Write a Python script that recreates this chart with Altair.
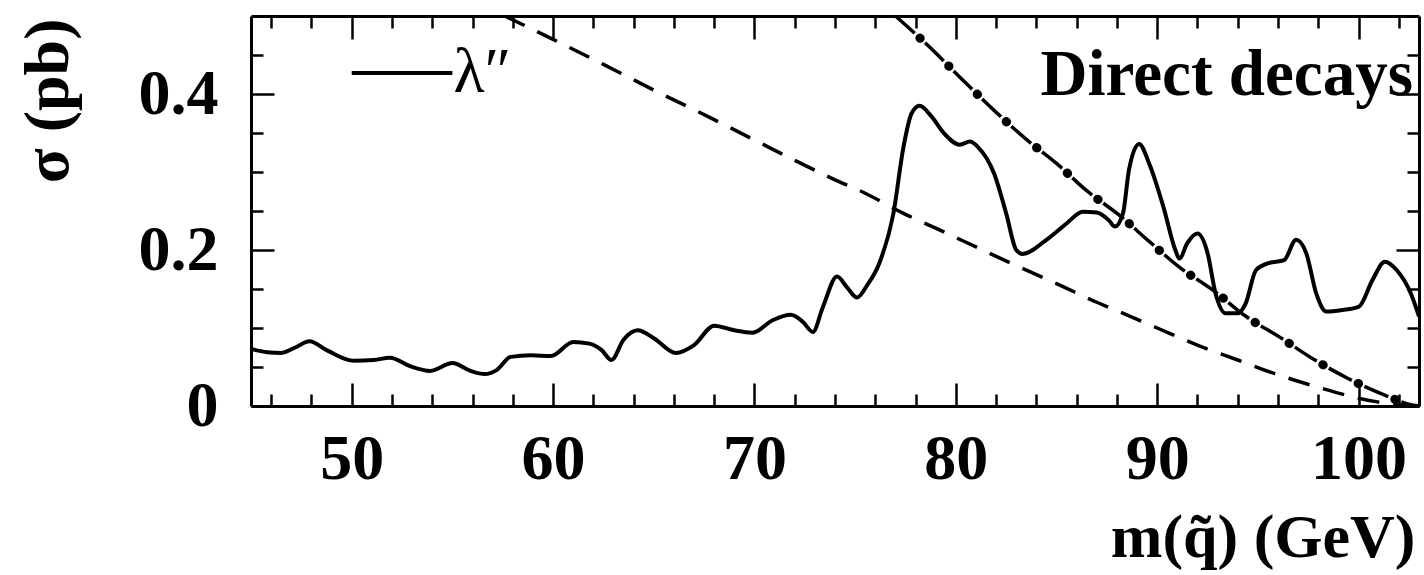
import altair as alt
import pandas as pd

# ---------------- data ----------------
solid_x = [45.0, 45.8, 46.5, 47.2, 47.9, 48.8, 50.1, 51.1, 51.9, 52.9, 53.9, 55.0, 55.9,
           56.6, 57.2, 57.9, 58.9, 59.9, 61.0, 61.8, 62.4, 62.9, 63.5, 64.2, 65.0, 66.1,
           67.0, 68.0, 69.0, 69.9, 70.9, 71.8, 72.4, 72.9, 73.4, 74.1, 74.6, 75.1, 75.6,
           76.2, 76.9, 77.4, 77.8, 78.2, 78.8, 79.4, 80.2, 80.7, 81.1, 81.9, 82.5, 83.0,
           83.3, 84.5, 85.5, 86.3, 87.0, 87.6, 87.9, 88.3, 88.6, 89.1, 89.6, 90.3, 90.9,
           91.1, 91.5, 92.0, 92.5, 92.9, 93.4, 94.0, 94.4, 94.9, 95.5, 96.3, 96.9, 97.4,
           97.9, 98.4, 99.2, 100.0, 100.7, 101.3, 101.9, 102.6, 103.0]
solid_y = [0.073, 0.069, 0.068, 0.075, 0.083, 0.071, 0.058, 0.059, 0.062, 0.051, 0.045, 0.055, 0.045,
           0.041, 0.046, 0.063, 0.065, 0.064, 0.082, 0.080, 0.072, 0.059, 0.085, 0.097, 0.087, 0.068,
           0.078, 0.103, 0.097, 0.094, 0.110, 0.117, 0.108, 0.095, 0.127, 0.166, 0.152, 0.139, 0.155,
           0.183, 0.247, 0.332, 0.375, 0.385, 0.371, 0.350, 0.335, 0.339, 0.332, 0.298, 0.247, 0.200,
           0.195, 0.213, 0.234, 0.249, 0.248, 0.238, 0.230, 0.247, 0.303, 0.336, 0.311, 0.256, 0.200,
           0.189, 0.209, 0.221, 0.196, 0.144, 0.119, 0.119, 0.132, 0.174, 0.183, 0.187, 0.213, 0.196,
           0.144, 0.121, 0.123, 0.127, 0.162, 0.185, 0.174, 0.144, 0.115]

dashed_x = [57.6, 60.0, 62.5, 65.0, 67.7, 70.0, 72.0, 74.0, 75.4, 77.4, 79.0, 81.0, 83.0,
            85.0, 87.0, 88.1, 90.0, 92.0, 94.0, 96.0, 98.0, 100.0, 101.0, 102.0, 102.5]
dashed_y = [0.500, 0.470, 0.438, 0.405, 0.371, 0.341, 0.315, 0.290, 0.274, 0.247, 0.228, 0.204, 0.180,
            0.157, 0.133, 0.121, 0.100, 0.078, 0.059, 0.040, 0.024, 0.010, 0.005, 0.001, 0.000]

dashdot_x = [77.0, 78.5, 80.5, 81.9, 83.4, 85.0, 86.5, 88.1, 89.6, 91.1, 92.8, 94.4, 96.1,
             97.7, 99.5, 101.3, 102.7, 103.0]
dashdot_y = [0.500, 0.465, 0.414, 0.379, 0.344, 0.311, 0.276, 0.245, 0.211, 0.178, 0.148, 0.115, 0.088,
             0.061, 0.035, 0.014, 0.001, 0.000]

x_major = [50, 60, 70, 80, 90, 100]
x_minor = [46, 48, 52, 54, 56, 58, 62, 64, 66, 68, 72, 74, 76, 78, 82, 84, 86, 88, 92, 94, 96, 98, 102]
y_major = [0, 0.2, 0.4]
y_minor = [0.05, 0.1, 0.15, 0.25, 0.3, 0.35, 0.45]

x_title = "m(q\u0303) (GeV)"
y_title = "\u03c3 (pb)"
legend_label = "\u03bb\u2033"
annotation = "Direct decays"

# ---------------- layout / style ----------------
W, H = 1168, 390
FONT = "Liberation Serif"
xscale = alt.Scale(domain=[45, 103], nice=False, zero=False)
yscale = alt.Scale(domain=[0, 0.5], nice=False, zero=False)

solid_df = pd.DataFrame({"x": solid_x, "y": solid_y})
dashed_df = pd.DataFrame({"x": dashed_x, "y": dashed_y})
dashdot_df = pd.DataFrame({"x": dashdot_x, "y": dashdot_y})


def tick_axis(orient, values, size, offset, domain=False):
    return alt.Axis(orient=orient, values=values, tickSize=size, offset=offset,
                    labels=False, domain=domain, domainColor="black", domainWidth=3,
                    grid=False, title=None, tickColor="black", tickWidth=2.5)


x_label_axis = alt.Axis(orient="bottom", values=x_major, ticks=False, tickSize=0,
                        domain=True, domainColor="black", domainWidth=3,
                        grid=False, labelPadding=21, labelFlush=False,
                        labelFont=FONT, labelFontWeight="bold", labelFontSize=64,
                        labelColor="black", title=x_title, titleFont=FONT,
                        titleFontWeight="bold", titleFontSize=62, titleColor="black",
                        titleX=W - 4, titleY=150, titleAlign="right", titleBaseline="alphabetic",
                        titleAngle=0)
y_label_axis = alt.Axis(orient="left", values=y_major, ticks=False, tickSize=0,
                        domain=True, domainColor="black", domainWidth=3,
                        grid=False, labelPadding=33, labelFlush=False, format="~g",
                        labelFont=FONT, labelFontWeight="bold", labelFontSize=64,
                        labelColor="black", title=y_title, titleFont=FONT,
                        titleFontWeight="bold", titleFontSize=64, titleColor="black",
                        titleX=-184, titleY=2, titleAlign="right", titleBaseline="alphabetic",
                        titleAngle=270)

solid = alt.Chart(solid_df).mark_line(
    color="black", strokeWidth=4, interpolate="monotone", clip=True
).encode(
    x=alt.X("x:Q", scale=xscale, axis=x_label_axis),
    y=alt.Y("y:Q", scale=yscale, axis=y_label_axis),
)

dashed = alt.Chart(dashed_df).mark_line(
    color="black", strokeWidth=3.5, strokeDash=[22, 14], interpolate="monotone", clip=True
).encode(
    x=alt.X("x:Q", scale=xscale, axis=tick_axis("top", x_major, 23, -H)),
    y=alt.Y("y:Q", scale=yscale, axis=tick_axis("right", y_major, 23, -W)),
)

dashdot = alt.Chart(dashdot_df).mark_line(
    color="black", strokeWidth=3.5, strokeDash=[26, 14], interpolate="monotone", clip=True
).encode(
    x=alt.X("x:Q", scale=xscale, axis=tick_axis("top", x_minor, 12, -H)),
    y=alt.Y("y:Q", scale=yscale, axis=tick_axis("right", y_minor, 12, -W)),
)

dots = alt.Chart(dashdot_df).mark_line(
    color="black", strokeWidth=9, strokeDash=[0.5, 39.5], strokeDashOffset=7,
    strokeCap="round", interpolate="monotone", clip=True
).encode(
    x=alt.X("x:Q", scale=xscale, axis=tick_axis("bottom", x_major, 23, -H, domain=True)),
    y=alt.Y("y:Q", scale=yscale, axis=tick_axis("left", y_major, 23, -W, domain=True)),
)

legend_line = alt.Chart(pd.DataFrame({"x": [50.0, 55.0], "y": [0.427, 0.427]})).mark_line(
    color="black", strokeWidth=4
).encode(
    x=alt.X("x:Q", scale=xscale, axis=tick_axis("bottom", x_minor, 12, -H)),
    y=alt.Y("y:Q", scale=yscale, axis=tick_axis("left", y_minor, 12, -W)),
)

legend_text = alt.Chart(pd.DataFrame({"x": [55.05], "y": [0.402], "t": [legend_label]})).mark_text(
    align="left", baseline="alphabetic", font=FONT, fontSize=64, color="black"
).encode(
    x=alt.X("x:Q", scale=xscale, axis=None),
    y=alt.Y("y:Q", scale=yscale, axis=None),
    text="t:N",
)

annot = alt.Chart(pd.DataFrame({"x": [102.7], "y": [0.399], "t": [annotation]})).mark_text(
    align="right", baseline="alphabetic", font=FONT, fontWeight="bold", fontSize=65, color="black"
).encode(
    x=alt.X("x:Q", scale=xscale, axis=None),
    y=alt.Y("y:Q", scale=yscale, axis=None),
    text="t:N",
)

chart = alt.layer(solid, dashed, dashdot, dots, legend_line, legend_text, annot).properties(
    width=W, height=H,
    padding={"left": 251, "top": 16, "right": 5, "bottom": 169},
    autosize=alt.AutoSizeParams(type="none"),
).resolve_axis(
    x="independent", y="independent"
).configure_view(
    strokeWidth=0
).configure(background="white")

chart.save("out.html", embed_options={"renderer": "svg", "actions": False})
